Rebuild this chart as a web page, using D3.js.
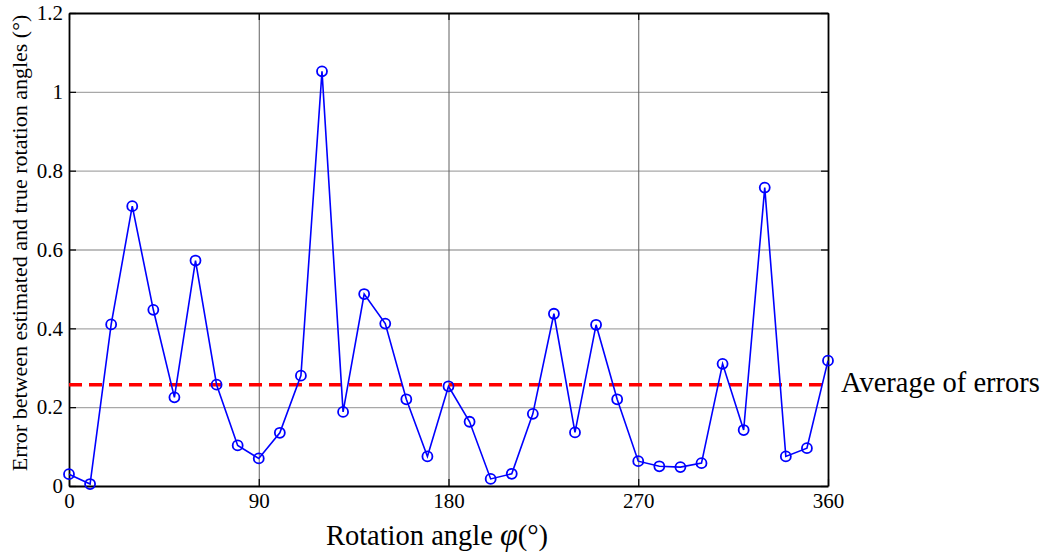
<!DOCTYPE html>
<html>
<head>
<meta charset="utf-8">
<script src="https://cdn.jsdelivr.net/npm/d3@7"></script>
<style>
  body { margin: 0; background: #fff; }
  svg text { font-family: "Liberation Serif", "Times New Roman", serif; fill: #000; }
</style>
</head>
<body>
<div id="chart"></div>
<script>
// rotation angles (deg) and estimation errors (deg)
var angles = [0, 10, 20, 30, 40, 50, 60, 70, 80, 90, 100, 110, 120, 130, 140, 150, 160, 170, 180,
              190, 200, 210, 220, 230, 240, 250, 260, 270, 280, 290, 300, 310, 320, 330, 340, 350, 360];
var errors = [0.030, 0.005, 0.410, 0.710, 0.447, 0.225, 0.572, 0.257, 0.103, 0.070, 0.135, 0.280, 1.052,
              0.188, 0.487, 0.412, 0.220, 0.075, 0.253, 0.163, 0.018, 0.031, 0.183, 0.437, 0.136, 0.409,
              0.220, 0.063, 0.050, 0.048, 0.058, 0.310, 0.142, 0.757, 0.075, 0.096, 0.318];
var averageError = 0.257;

var xTicks = [0, 90, 180, 270, 360];
var yTicks = [0, 0.2, 0.4, 0.6, 0.8, 1, 1.2];

var W = 1043, H = 554;
var margin = { top: 13, right: 215, bottom: 68, left: 69 };
var w = W - margin.left - margin.right,
    h = H - margin.top - margin.bottom;

var svg = d3.select("#chart").append("svg")
    .attr("width", W)
    .attr("height", H);

var g = svg.append("g")
    .attr("transform", "translate(" + margin.left + "," + margin.top + ")");

var x = d3.scaleLinear().domain([0, 360]).range([0, w]);
var y = d3.scaleLinear().domain([0, 1.2]).range([h, 0]);

// grid lines
g.append("g")
    .attr("class", "grid-y")
    .call(d3.axisLeft(y).tickValues(yTicks.slice(1, -1)).tickSize(-w).tickFormat(""))
    .call(function(s) {
        s.select(".domain").remove();
        s.selectAll("line").attr("stroke", "#a8a8a8").attr("stroke-width", 1.3);
    });

g.append("g")
    .attr("class", "grid-x")
    .attr("transform", "translate(0," + h + ")")
    .call(d3.axisBottom(x).tickValues(xTicks.slice(1, -1)).tickSize(-h).tickFormat(""))
    .call(function(s) {
        s.select(".domain").remove();
        s.selectAll("line").attr("stroke", "#606060").attr("stroke-width", 1);
    });

// axes, ticks pointing inward
function styleAxis(s) {
    s.attr("font-family", null).attr("font-size", null);
    s.select(".domain").attr("stroke", "#000").attr("stroke-width", 1.8);
    s.selectAll(".tick line").attr("stroke", "#000").attr("stroke-width", 1.2);
    s.selectAll("text").style("font-size", "21px");
}

g.append("g")
    .attr("transform", "translate(0," + h + ")")
    .call(d3.axisBottom(x).tickValues(xTicks).tickSizeInner(-7).tickSizeOuter(0).tickPadding(7))
    .call(styleAxis);

g.append("g")
    .call(d3.axisTop(x).tickValues(xTicks).tickSizeInner(-7).tickSizeOuter(0).tickFormat(""))
    .call(styleAxis);

g.append("g")
    .call(d3.axisLeft(y).tickValues(yTicks).tickSizeInner(-7).tickSizeOuter(0).tickPadding(6)
        .tickFormat(function(d) { return d3.format("")(+d.toFixed(1)); }))
    .call(styleAxis);

g.append("g")
    .attr("transform", "translate(" + w + ",0)")
    .call(d3.axisRight(y).tickValues(yTicks).tickSizeInner(-7).tickSizeOuter(0).tickFormat(""))
    .call(styleAxis);

// average line
g.append("line")
    .attr("x1", x(0)).attr("x2", x(360))
    .attr("y1", y(averageError)).attr("y2", y(averageError))
    .attr("stroke", "#ff0000")
    .attr("stroke-width", 3.5)
    .attr("stroke-dasharray", "13,7");

// error series
var points = angles.map(function(a, i) { return { a: a, e: errors[i] }; });

var line = d3.line()
    .x(function(d) { return x(d.a); })
    .y(function(d) { return y(d.e); });

g.append("path")
    .datum(points)
    .attr("d", line)
    .attr("fill", "none")
    .attr("stroke", "#0000ff")
    .attr("stroke-width", 1.6);

g.selectAll("circle.pt")
    .data(points)
    .enter().append("circle")
    .attr("class", "pt")
    .attr("cx", function(d) { return x(d.a); })
    .attr("cy", function(d) { return y(d.e); })
    .attr("r", 5)
    .attr("fill", "none")
    .attr("stroke", "#0000ff")
    .attr("stroke-width", 1.8);

// labels
g.append("text")
    .attr("x", w + 13)
    .attr("y", y(averageError) + 7)
    .style("font-size", "28.5px")
    .text("Average of errors");

var xl = svg.append("text")
    .attr("x", 437)
    .attr("y", 545)
    .attr("text-anchor", "middle")
    .style("font-size", "28.5px");
xl.append("tspan").text("Rotation angle ");
xl.append("tspan").style("font-style", "italic").style("font-size", "32px").text("φ");
xl.append("tspan").text("(°)");

svg.append("text")
    .attr("transform", "translate(27," + 243 + ") rotate(-90)")
    .attr("text-anchor", "middle")
    .style("font-size", "22px")
    .text("Error between estimated and true rotation angles (°)");
</script>
</body>
</html>
